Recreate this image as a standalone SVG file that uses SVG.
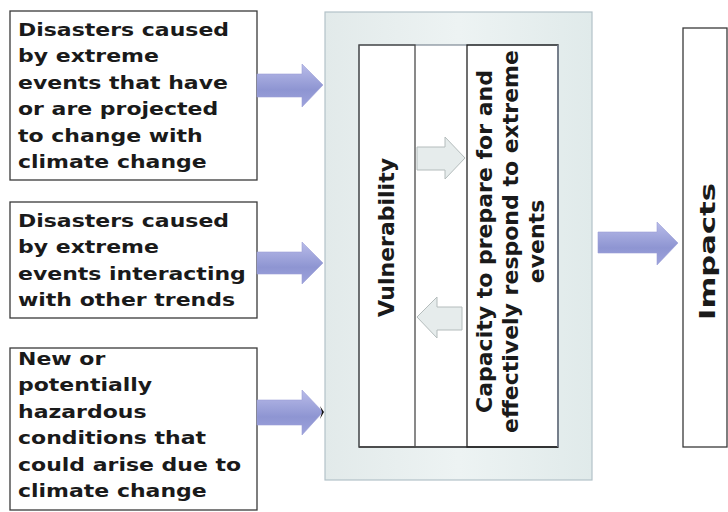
<svg xmlns="http://www.w3.org/2000/svg" width="728" height="512" viewBox="0 0 728 512">
<defs>
<style>
.box{fill:#ffffff;stroke:#3a3a3a;stroke-width:1.3}
.t{font-family:"DejaVu Sans","Verdana",sans-serif;font-weight:bold;font-size:22px;fill:#1a1a1a}
.blue{fill:url(#gb);stroke:#9ca0d6;stroke-width:0.6}
.grey{fill:#e6ecec;stroke:#b4bcbc;stroke-width:1}
</style>
<linearGradient id="gb" x1="0" y1="0" x2="0" y2="1">
<stop offset="0" stop-color="#b9bce9"/>
<stop offset="0.6" stop-color="#8e95d2"/>
<stop offset="1" stop-color="#9ea3dc"/>
</linearGradient>
<linearGradient id="go" x1="0" y1="0" x2="1" y2="0">
<stop offset="0" stop-color="#e2eaea"/>
<stop offset="0.5" stop-color="#edf3f3"/>
<stop offset="1" stop-color="#e0eaea"/>
</linearGradient>
</defs>
<rect width="728" height="512" fill="#ffffff"/>

<g id="box1">
<rect class="box" x="10" y="11" width="247" height="169"/>
<text class="t" transform="translate(18,36) scale(1,0.83)"><tspan x="0" y="0">Disasters caused</tspan><tspan x="0" dy="31.8">by extreme</tspan><tspan x="0" dy="31.8">events that have</tspan><tspan x="0" dy="31.8">or are projected</tspan><tspan x="0" dy="31.8">to change with</tspan><tspan x="0" dy="31.8">climate change</tspan></text>
</g>

<g id="box2">
<rect class="box" x="10" y="202" width="247" height="116"/>
<text class="t" transform="translate(18,227) scale(1,0.83)"><tspan x="0" y="0">Disasters caused</tspan><tspan x="0" dy="31.8">by extreme</tspan><tspan x="0" dy="31.8">events interacting</tspan><tspan x="0" dy="31.8">with other trends</tspan></text>
</g>

<g id="box3">
<rect class="box" x="10" y="348" width="247" height="162"/>
<text class="t" transform="translate(18,365) scale(1,0.83)"><tspan x="0" y="0">New or</tspan><tspan x="0" dy="31.8">potentially</tspan><tspan x="0" dy="31.8">hazardous</tspan><tspan x="0" dy="31.8">conditions that</tspan><tspan x="0" dy="31.8">could arise due to</tspan><tspan x="0" dy="31.8">climate change</tspan></text>
</g>

<g id="system">
<rect x="325" y="12" width="267" height="468" fill="url(#go)" stroke="#b3c2c8" stroke-width="1.2"/>
<rect x="359" y="45" width="199" height="402" fill="#ffffff" stroke="#7f8a96" stroke-width="1.2"/>
<line x1="359" y1="447" x2="558" y2="447" stroke="#333" stroke-width="1.3"/>
</g>

<g id="vulnerability">
<rect x="359" y="45" width="56" height="402" fill="none" stroke="#4a4a4a" stroke-width="1.3"/>
<text class="t" text-anchor="middle" transform="translate(394,237.5) rotate(-90)">Vulnerability</text>
</g>

<g id="capacity">
<rect x="467" y="45" width="91" height="402" fill="none" stroke="#222" stroke-width="1.3"/>
<line x1="558" y1="45" x2="558" y2="447" stroke="#8a96a8" stroke-width="1.3"/>
<text class="t" text-anchor="middle" transform="translate(492,241.5) rotate(-90)">Capacity to prepare for and</text>
<text class="t" text-anchor="middle" transform="translate(518,241.5) rotate(-90)">effectively respond to extreme</text>
<text class="t" text-anchor="middle" transform="translate(544,241.5) rotate(-90)">events</text>
</g>

<g id="impacts">
<rect class="box" x="683" y="28" width="44" height="419"/>
<text class="t" text-anchor="middle" textLength="137" lengthAdjust="spacingAndGlyphs" transform="translate(715,251.5) rotate(-90)">Impacts</text>
</g>

<g id="connectors">
<path class="blue" d="M257,74 H302 V64 L323,85 L302,107 V97 H257 Z"/>
<path class="blue" d="M257,252 H302 V242 L323,263 L302,284 V274 H257 Z"/>
<path class="blue" d="M257,400 H302 V390 L323,412 L302,435 V425 H257 Z"/>
<path d="M320,406 L324,412 L320,419 L322,412 Z" fill="#111"/>
<path class="blue" d="M598,232 H657 V222 L678,243 L657,265 V253 H598 Z"/>
<path class="grey" d="M417,147 H445 V137 L465,158 L445,179 V170 H417 Z"/>
<path class="grey" d="M462,307 H437 V297 L417,317 L437,338 V330 H462 Z"/>
</g>
</svg>
